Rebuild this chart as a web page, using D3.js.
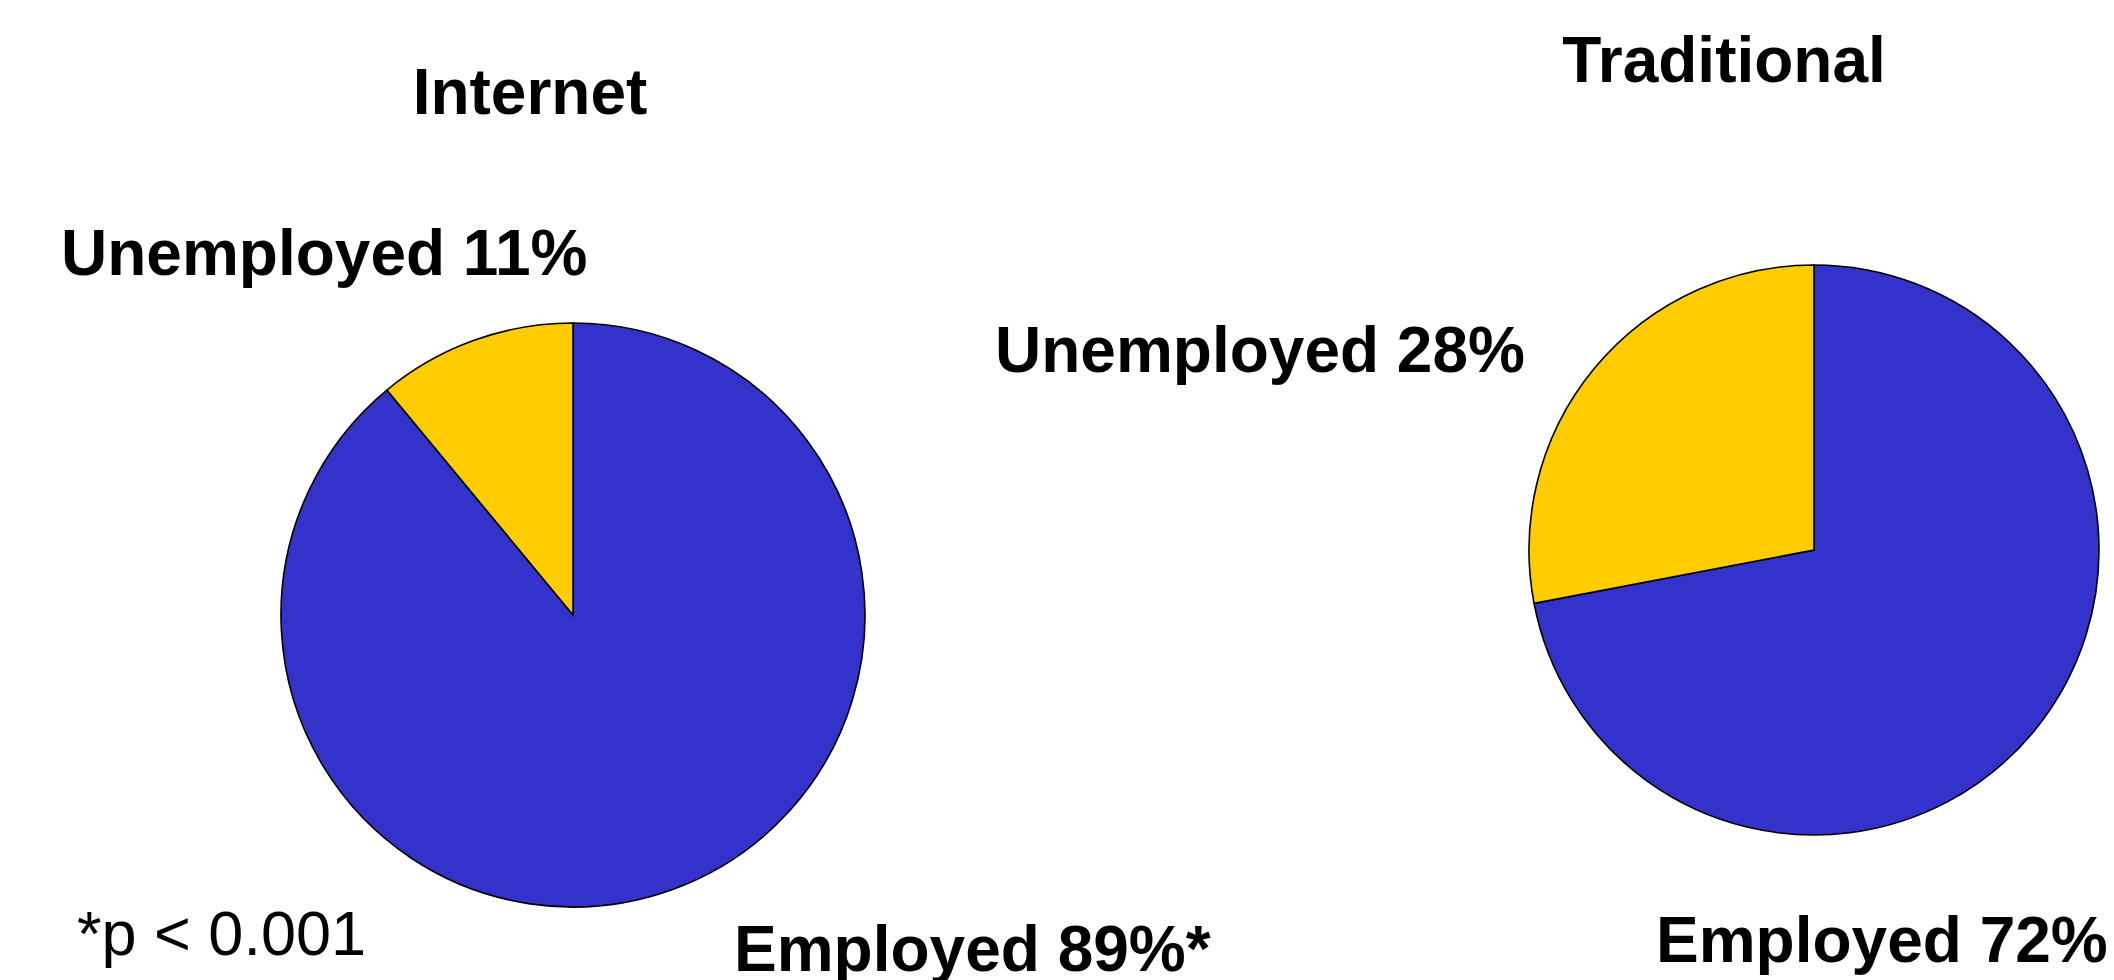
<!DOCTYPE html>
<html>
<head>
<meta charset="utf-8">
<script src="https://cdn.jsdelivr.net/npm/d3@7"></script>
<style>
  html, body { margin: 0; padding: 0; background: #fff; overflow: hidden; }
  svg { display: block; }
  text { font-family: "Liberation Sans", Arial, Helvetica, sans-serif; fill: #000; }
</style>
</head>
<body>
<svg id="chart" width="2114" height="980"></svg>
<script>
// Employment status by recruitment channel
const categories = ["Employed", "Unemployed"];
const groups = ["Internet", "Traditional"];
const internetValues = [89, 11];
const traditionalValues = [72, 28];
const employedMarks = ["*", ""];          // significance marker per group
const footnote = "*p < 0.001";

const colors = d3.scaleOrdinal().domain(categories).range(["#3333CC", "#FFCC00"]);

const svg = d3.select("#chart");

// Layout for each pie panel
const panels = [
  { name: groups[0], values: internetValues, mark: employedMarks[0],
    cx: 573, cy: 615, r: 292,
    title: { x: 530, y: 114 },
    unemp: { x: 61, y: 275 },
    emp: { x: 734, y: 971 } },
  { name: groups[1], values: traditionalValues, mark: employedMarks[1],
    cx: 1814, cy: 550, r: 285,
    title: { x: 1724, y: 82 },
    unemp: { x: 995, y: 372 },
    emp: { x: 1656, y: 962 } }
];

const pie = d3.pie().sort(null).value(d => d.value);

panels.forEach(p => {
  const data = categories.map((c, i) => ({ category: c, value: p.values[i] }));
  const arcs = pie(data);
  const arc = d3.arc().innerRadius(0).outerRadius(p.r);

  const g = svg.append("g").attr("transform", `translate(${p.cx},${p.cy})`);
  g.selectAll("path")
    .data(arcs)
    .join("path")
    .attr("d", arc)
    .attr("fill", d => colors(d.data.category))
    .attr("stroke", "#000")
    .attr("stroke-width", 1.6)
    .attr("stroke-linejoin", "miter");

  svg.append("text")
    .attr("x", p.title.x).attr("y", p.title.y)
    .attr("text-anchor", "middle")
    .attr("font-size", 64).attr("font-weight", "bold")
    .text(p.name);

  svg.append("text")
    .attr("x", p.unemp.x).attr("y", p.unemp.y)
    .attr("font-size", 64).attr("font-weight", "bold")
    .text(`${categories[1]} ${p.values[1]}%`);

  svg.append("text")
    .attr("x", p.emp.x).attr("y", p.emp.y)
    .attr("font-size", 64).attr("font-weight", "bold")
    .text(`${categories[0]} ${p.values[0]}%${p.mark}`);
});

svg.append("text")
  .attr("x", 77).attr("y", 955)
  .attr("font-size", 63)
  .text(footnote);
</script>
</body>
</html>
